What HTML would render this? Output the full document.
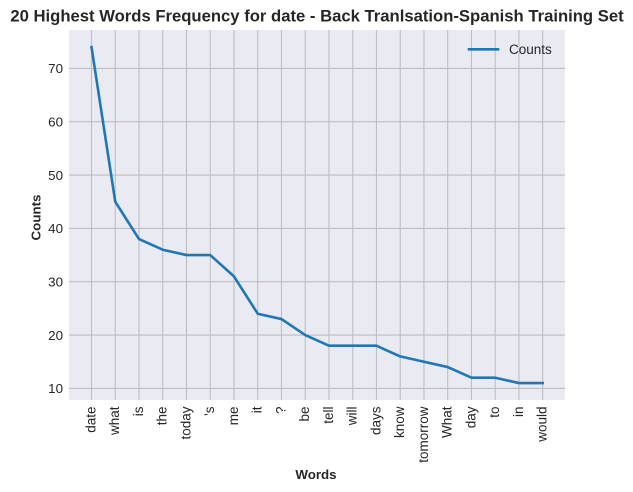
<!DOCTYPE html>
<html>
<head>
<meta charset="utf-8">
<style>
html,body{margin:0;padding:0;background:#fff;width:633px;height:492px;overflow:hidden}
svg{display:block}
text{font-family:"Liberation Sans",Arial,sans-serif;fill:#262626}
</style>
</head>
<body>
<svg id="chart" width="633" height="492" viewBox="0 0 633 492" xmlns="http://www.w3.org/2000/svg">
<rect x="69" y="30" width="496" height="370" fill="#eaeaf2"/>
<g id="grid"></g>
<g id="ticks"></g>
<path id="line" fill="none" stroke="#1f77b4" stroke-width="2.6" stroke-linejoin="round" stroke-linecap="square"></path>
<text x="317" y="21.5" text-anchor="middle" font-size="16.67" font-weight="bold">20 Highest Words Frequency for date - Back Tranlsation-Spanish Training Set</text>
<text x="316" y="479" text-anchor="middle" font-size="13.33" font-weight="bold">Words</text>
<text transform="translate(40.5,217.5) rotate(-90)" text-anchor="middle" font-size="13.33" font-weight="bold">Counts</text>
<g>
<line x1="469" y1="49.3" x2="498" y2="49.3" stroke="#1f77b4" stroke-width="2.6" stroke-linecap="square"/>
<text x="509" y="54.2" font-size="13.5">Counts</text>
</g>
</svg>
<script>
const words = ["date","what","is","the","today","'s","me","it","?","be","tell","will","days","know","tomorrow","What","day","to","in","would"];
const counts = [74,45,38,36,35,35,31,24,23,20,18,18,18,16,15,14,12,12,11,11];
const yTicks = [10,20,30,40,50,60,70];

const NS = 'http://www.w3.org/2000/svg';
function xPos(i){ return 91.5 + i * (542.7 - 91.5) / (words.length - 1); }
function yPos(v){ return 388.4 - (v - 10) * (388.4 - 68.4) / 60; }

const grid = document.getElementById('grid');
const ticks = document.getElementById('ticks');

words.forEach(function(word, i){
  const x = xPos(i);
  const g = document.createElementNS(NS, 'line');
  
  
  g.setAttribute('x1', x); g.setAttribute('x2', x);
  g.setAttribute('y1', 30); g.setAttribute('y2', 400);
  g.setAttribute('stroke', '#bebebe'); g.setAttribute('stroke-width', '1.1');
  grid.appendChild(g);
  const t = document.createElementNS(NS, 'text');
  
  
  t.setAttribute('transform', 'translate(' + (x + 3.8) + ',406.5) rotate(-90)');
  t.setAttribute('text-anchor', 'end');
  t.setAttribute('font-size', '13.5');
  t.textContent = word;
  ticks.appendChild(t);
});

yTicks.forEach(function(v){
  const y = yPos(v);
  const g = document.createElementNS(NS, 'line');
  
  
  g.setAttribute('x1', 69); g.setAttribute('x2', 565);
  g.setAttribute('y1', y); g.setAttribute('y2', y);
  g.setAttribute('stroke', '#bebebe'); g.setAttribute('stroke-width', '1.1');
  grid.appendChild(g);
  const t = document.createElementNS(NS, 'text');
  
  
  t.setAttribute('x', 63); t.setAttribute('y', y + 4.8);
  t.setAttribute('text-anchor', 'end');
  t.setAttribute('font-size', '13.33');
  t.textContent = v;
  ticks.appendChild(t);
});

document.getElementById('line').setAttribute('d', counts.map(function(v, i){
  return (i ? 'L' : 'M') + xPos(i).toFixed(2) + ' ' + yPos(v).toFixed(2);
}).join(' '));
</script>
</body>
</html>
